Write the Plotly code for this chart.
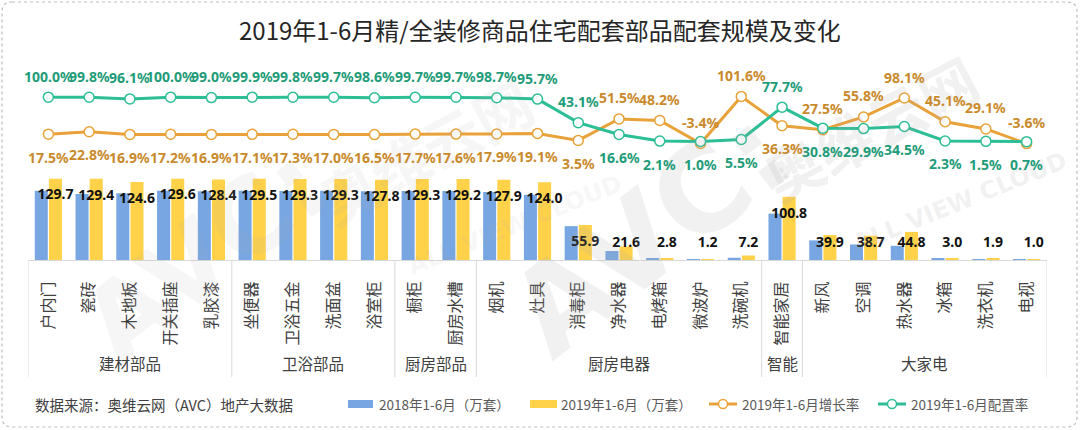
import plotly.graph_objects as go

# ---------------- data ----------------
categories = ["户内门", "瓷砖", "木地板", "开关插座", "乳胶漆",
              "坐便器", "卫浴五金", "洗面盆", "浴室柜",
              "橱柜", "厨房水槽",
              "烟机", "灶具", "消毒柜", "净水器", "电烤箱", "微波炉", "洗碗机",
              "智能家居",
              "新风", "空调", "热水器", "冰箱", "洗衣机", "电视"]
group_names = ["建材部品", "卫浴部品", "厨房部品", "厨房电器", "智能", "大家电"]
group_sizes = [5, 4, 2, 7, 1, 6]

vol_2018 = [110.4, 105.4, 106.6, 110.6, 109.8, 110.6, 110.2, 110.5, 109.7,
            109.9, 109.9, 108.5, 104.1, 54.0, 14.3, 1.9, 1.2, 3.6,
            74.0, 31.3, 24.8, 22.6, 2.1, 1.5, 1.0]
vol_2019 = [129.7, 129.4, 124.6, 129.6, 128.4, 129.5, 129.3, 129.3, 127.8,
            129.3, 129.2, 127.9, 124.0, 55.9, 21.6, 2.8, 1.2, 7.2,
            100.8, 39.9, 38.7, 44.8, 3.0, 1.9, 1.0]
growth_rate = [17.5, 22.8, 16.9, 17.2, 16.9, 17.1, 17.3, 17.0, 16.5,
               17.7, 17.6, 17.9, 19.1, 3.5, 51.5, 48.2, -3.4, 101.6,
               36.3, 27.5, 55.8, 98.1, 45.1, 29.1, -3.6]
config_rate = [100.0, 99.8, 96.1, 100.0, 99.0, 99.9, 99.8, 99.7, 98.6,
               99.7, 99.7, 98.7, 95.7, 43.1, 16.6, 2.1, 1.0, 5.5,
               77.7, 30.8, 29.9, 34.5, 2.3, 1.5, 0.7]

series_names = ["2018年1-6月（万套）", "2019年1-6月（万套）",
                "2019年1-6月增长率", "2019年1-6月配置率"]
title_text = "2019年1-6月精/全装修商品住宅配套部品配套规模及变化"
source_text = "数据来源：奥维云网（AVC）地产大数据"

# label placement (style, not data)
growth_label_side = ["below"] * 13 + ["below", "above", "above", "above", "above",
                                      "below", "above", "above", "above", "above",
                                      "above", "above"]
config_label_side = ["above"] * 13 + ["above", "below", "below", "below", "below",
                                      "above", "below", "below", "below", "below",
                                      "below", "below"]

# ---------------- styles ----------------
BLUE = "#78A6E2"
YELLOW = "#FFD24A"
ORANGE = "#E9A23A"
ORANGE_TXT = "#C98A2C"
GREEN = "#2CBE95"
GREEN_TXT = "#1E9C79"
GRID = "#D9D9D9"
TXT = "#404040"
CJK = "Noto Sans CJK SC, Noto Sans, sans-serif"
NUM = "Noto Sans, Noto Sans CJK SC, sans-serif"

W, H = 1080, 430
L, R, T, B = 28, 1047, 70, 260          # plot area in pixels
PW, PH = R - L, B - T


def fx(px):
    return (px - L) / PW


def fy(py):
    return (B - py) / PH


n = len(categories)
x = list(range(n))

# axis scales (px per unit)
bar_scale = 0.627
line_zero_px, line_scale = 142.0, 0.4485
y1_range = [0, PH / bar_scale]
y2_range = [-(B - line_zero_px) / line_scale, (line_zero_px - T) / line_scale]

fig = go.Figure()

fig.add_trace(go.Bar(x=x, y=vol_2018, name=series_names[0], marker_color=BLUE,
                     marker_line_width=0, showlegend=False, hoverinfo="y"))
fig.add_trace(go.Bar(x=x, y=vol_2019, name=series_names[1], marker_color=YELLOW,
                     marker_line_width=0, showlegend=False, hoverinfo="y"))

# data labels on 2019 bars
bar_label_y = [max(v - 27.5, 26.5) for v in vol_2019]
fig.add_trace(go.Scatter(x=[i + 0.174 for i in x], y=bar_label_y, mode="text",
                         text=[f"{v:.1f}" for v in vol_2019],
                         textfont=dict(family=NUM, size=14, color="#111111", weight="bold"),
                         showlegend=False, hoverinfo="skip", cliponaxis=False))

fig.add_trace(go.Scatter(x=x, y=growth_rate, name=series_names[2], yaxis="y2",
                         mode="lines+markers",
                         line=dict(color=ORANGE, width=3),
                         marker=dict(symbol="circle", size=10, color="white",
                                     line=dict(color=ORANGE, width=1.5)),
                         showlegend=False, cliponaxis=False))
fig.add_trace(go.Scatter(x=x, y=config_rate, name=series_names[3], yaxis="y2",
                         mode="lines+markers",
                         line=dict(color=GREEN, width=3),
                         marker=dict(symbol="circle", size=10, color="white",
                                     line=dict(color=GREEN, width=1.5)),
                         showlegend=False, cliponaxis=False))

annotations = []

# faint watermarks
for (wx, wy, alpha, fs) in ((205, 255, 0.10, 105), (650, 232, 0.16, 120)):
    wm = f"rgba(170,170,170,{alpha})"
    annotations.append(dict(x=fx(wx), y=fy(wy), xref="paper", yref="paper", text="AVC:",
                            showarrow=False, textangle=-38, xanchor="center", yanchor="middle",
                            font=dict(family="DejaVu Sans", size=fs, color=wm, weight="bold")))
    annotations.append(dict(x=fx(wx + 220), y=fy(wy - 105), xref="paper", yref="paper",
                            text="奥维云网", showarrow=False, textangle=-28,
                            xanchor="center", yanchor="middle",
                            font=dict(family=CJK, size=58, color=wm, weight="bold")))
    annotations.append(dict(x=fx(wx + 310), y=fy(wy - 30), xref="paper", yref="paper",
                            text="ALL VIEW CLOUD", showarrow=False, textangle=-22,
                            xanchor="center", yanchor="middle",
                            font=dict(family="DejaVu Sans", size=24, color=wm, weight="bold")))

for i in x:
    for vals, sides, col in ((growth_rate, growth_label_side, ORANGE_TXT),
                             (config_rate, config_label_side, GREEN_TXT)):
        annotations.append(dict(
            x=i, y=vals[i], xref="x", yref="y2", text=f"{vals[i]:.1f}%",
            showarrow=False, yanchor="middle", yshift=21 if sides[i] == "above" else -23,
            font=dict(family=NUM, size=14, color=col, weight="bold")))

# group labels and separators
shapes = []
start = 0
bounds = [-0.5]
for name, size in zip(group_names, group_sizes):
    center = start + (size - 1) / 2
    annotations.append(dict(x=center, y=fy(363), xref="x", yref="paper", text=name,
                            showarrow=False, yanchor="middle",
                            font=dict(family=CJK, size=15.5, color=TXT)))
    start += size
    bounds.append(start - 0.5)
for b in bounds:
    shapes.append(dict(type="line", xref="x", yref="paper", x0=b, x1=b,
                       y0=fy(B), y1=fy(377), line=dict(color=GRID, width=1)))

# title
annotations.append(dict(x=fx(540), y=fy(29), xref="paper", yref="paper", text=title_text,
                        showarrow=False, xanchor="center", yanchor="middle",
                        font=dict(family=CJK, size=24, color="#262626")))
# source
annotations.append(dict(x=fx(33), y=fy(404), xref="paper", yref="paper", text=source_text,
                        showarrow=False, xanchor="left", yanchor="middle",
                        font=dict(family=CJK, size=14.5, color=TXT)))

# manual legend
LEG_Y = 404
for (x0, x1, col, tx, label) in ((348, 373, BLUE, 377, series_names[0]),
                                 (530, 557, YELLOW, 559, series_names[1])):
    shapes.append(dict(type="rect", xref="paper", yref="paper",
                       x0=fx(x0), x1=fx(x1), y0=fy(LEG_Y - 4), y1=fy(LEG_Y + 4),
                       fillcolor=col, line=dict(width=0)))
    annotations.append(dict(x=fx(tx), y=fy(LEG_Y), xref="paper", yref="paper", text=label,
                            showarrow=False, xanchor="left", yanchor="middle",
                            font=dict(family=CJK, size=13.5, color="#595959")))
for (x0, x1, col, tx, label) in ((709, 737, ORANGE, 740, series_names[2]),
                                 (878, 906, GREEN, 909, series_names[3])):
    shapes.append(dict(type="line", xref="paper", yref="paper",
                       x0=fx(x0), x1=fx(x1), y0=fy(LEG_Y), y1=fy(LEG_Y),
                       line=dict(color=col, width=3)))
    cx = (x0 + x1) / 2
    shapes.append(dict(type="circle", xref="paper", yref="paper",
                       x0=fx(cx - 4.5), x1=fx(cx + 4.5), y0=fy(LEG_Y - 4.5), y1=fy(LEG_Y + 4.5),
                       fillcolor="white", line=dict(color=col, width=1.5)))
    annotations.append(dict(x=fx(tx), y=fy(LEG_Y), xref="paper", yref="paper", text=label,
                            showarrow=False, xanchor="left", yanchor="middle",
                            font=dict(family=CJK, size=13.5, color="#595959")))

# rounded dashed frame
bx0, bx1, by0, by1, r = 2, 1077, 2, 427, 10
path = (f"M {fx(bx0 + r)},{fy(by0)} L {fx(bx1 - r)},{fy(by0)} "
        f"Q {fx(bx1)},{fy(by0)} {fx(bx1)},{fy(by0 + r)} "
        f"L {fx(bx1)},{fy(by1 - r)} Q {fx(bx1)},{fy(by1)} {fx(bx1 - r)},{fy(by1)} "
        f"L {fx(bx0 + r)},{fy(by1)} Q {fx(bx0)},{fy(by1)} {fx(bx0)},{fy(by1 - r)} "
        f"L {fx(bx0)},{fy(by0 + r)} Q {fx(bx0)},{fy(by0)} {fx(bx0 + r)},{fy(by0)} Z")
shapes.append(dict(type="path", xref="paper", yref="paper", path=path,
                   line=dict(color="#BDBDBD", width=1.2, dash="dot")))

fig.update_layout(
    width=W, height=H, autosize=False,
    margin=dict(l=L, r=W - R, t=T, b=H - B, pad=0),
    paper_bgcolor="white", plot_bgcolor="white",
    barmode="group", bargap=0.305, bargroupgap=0.08,
    showlegend=False,
    xaxis=dict(range=[-0.5, n - 0.5], tickmode="array", tickvals=x, ticktext=categories,
               tickangle=-90, showgrid=False, zeroline=False,
               showline=True, linecolor=GRID, linewidth=1, ticks="",
               ticklabelstandoff=14,
               tickfont=dict(family=CJK, size=16, color=TXT), fixedrange=True),
    yaxis=dict(range=y1_range, visible=False, fixedrange=True),
    yaxis2=dict(range=y2_range, overlaying="y", visible=False, fixedrange=True),
    annotations=annotations,
    shapes=shapes,
)

fig.write_html("out.html")
